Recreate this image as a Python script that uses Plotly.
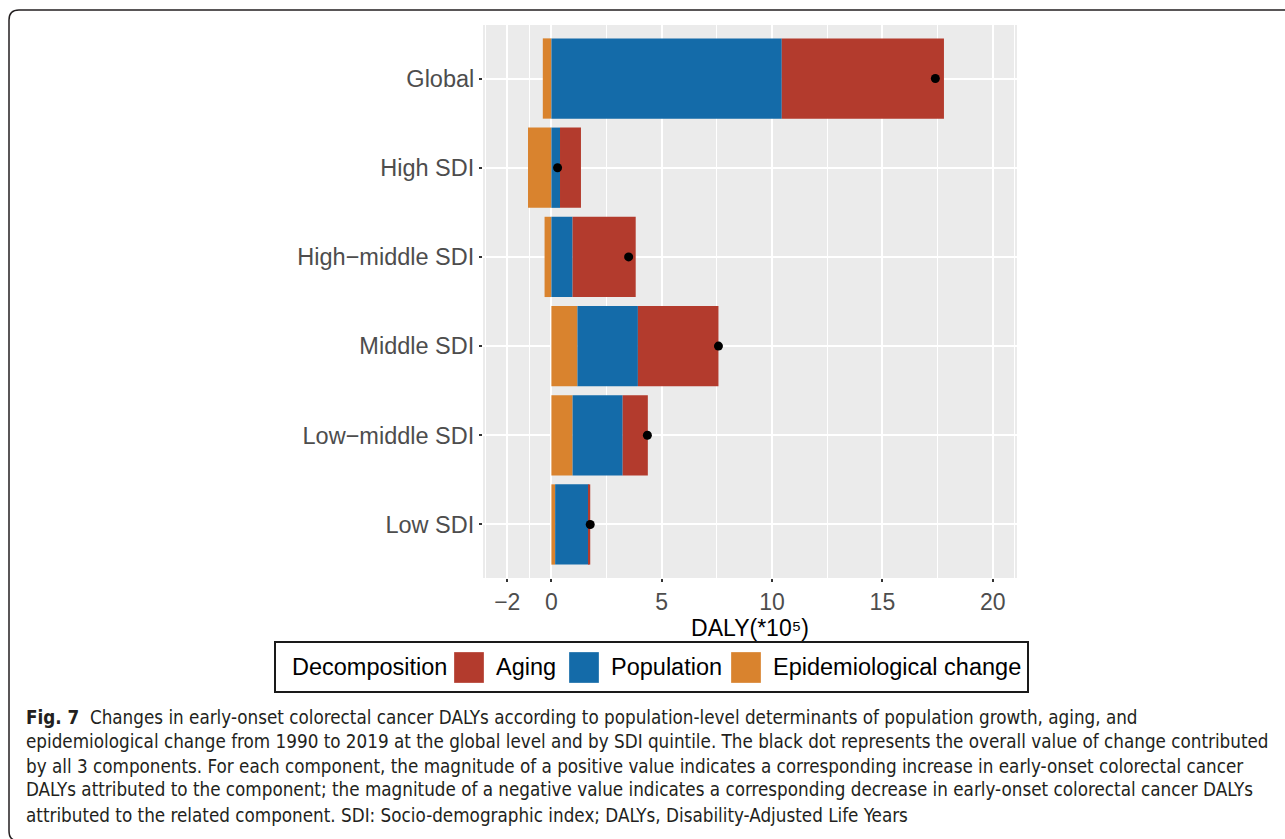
import plotly.graph_objects as go

# ---------------- data (DALY change, *10^5) ----------------
categories = ["Global", "High SDI", "High\u2212middle SDI", "Middle SDI", "Low\u2212middle SDI", "Low SDI"]
epi_change = [-0.39, -1.06, -0.31, 1.18, 0.96, 0.17]
population = [10.44, 0.39, 0.96, 2.74, 2.27, 1.52]
aging = [7.35, 0.95, 2.86, 3.65, 1.14, 0.07]
overall = [17.40, 0.28, 3.50, 7.57, 4.35, 1.76]

x_ticks = [-2, 0, 5, 10, 15, 20]
x_tick_labels = ["\u22122", "0", "5", "10", "15", "20"]
x_minor = [-3, -1, 2.5, 7.5, 12.5, 17.5, 21]

legend_names = ["Aging", "Population", "Epidemiological change"]
caption_lines = [
    "<b>Fig. 7</b>  Changes in early-onset colorectal cancer DALYs according to population-level determinants of population growth, aging, and",
    "epidemiological change from 1990 to 2019 at the global level and by SDI quintile. The black dot represents the overall value of change contributed",
    "by all 3 components. For each component, the magnitude of a positive value indicates a corresponding increase in early-onset colorectal cancer",
    "DALYs attributed to the component; the magnitude of a negative value indicates a corresponding decrease in early-onset colorectal cancer DALYs",
    "attributed to the related component. SDI: Socio-demographic index; DALYs, Disability-Adjusted Life Years",
]

C_AGING = "#B33B2D"
C_POP = "#146BA9"
C_EPI = "#D9832E"

W, H = 1285, 839
L, R, T, B = 483, 268, 25, 261
PW, PH = W - L - R, H - T - B


def px(x):
    return (x - L) / PW


def py(y):
    return (H - B - y) / PH


FONT = "Liberation Sans, Arial, sans-serif"

fig = go.Figure()
fig.add_trace(go.Bar(y=categories, x=epi_change, orientation="h", name="Epidemiological change",
                     marker=dict(color=C_EPI, line=dict(width=0)), width=0.9, showlegend=False))
fig.add_trace(go.Bar(y=categories, x=population, orientation="h", name="Population",
                     marker=dict(color=C_POP, line=dict(width=0)), width=0.9, showlegend=False))
fig.add_trace(go.Bar(y=categories, x=aging, orientation="h", name="Aging",
                     marker=dict(color=C_AGING, line=dict(width=0)), width=0.9, showlegend=False))
fig.add_trace(go.Scatter(y=categories, x=overall, mode="markers",
                         marker=dict(color="black", size=9), showlegend=False))

fig.update_layout(
    width=W, height=H,
    margin=dict(l=L, r=R, t=T, b=B, autoexpand=False),
    barmode="relative",
    bargap=0.1,
    paper_bgcolor="white",
    plot_bgcolor="#EBEBEB",
    font=dict(family=FONT, size=23, color="black"),
    showlegend=False,
)
fig.update_xaxes(
    range=[-3.1, 21.1],
    tickmode="array", tickvals=x_ticks, ticktext=x_tick_labels,
    tickfont=dict(size=23, color="#4D4D4D"),
    ticks="outside", ticklen=3, tickwidth=2, tickcolor="#333333",
    ticklabelstandoff=0,
    showgrid=True, gridcolor="white", gridwidth=2.2,
    zeroline=False, showline=False,
    minor=dict(tickmode="array", tickvals=x_minor, showgrid=True, gridcolor="white", gridwidth=1.1, ticks=""),
    title=dict(text="DALY(*10\u2075)", font=dict(size=23, color="black"), standoff=6),
)
fig.update_yaxes(
    type="category", categoryorder="array", categoryarray=categories,
    range=[5.6, -0.6],
    tickfont=dict(size=23.5, color="#4D4D4D"),
    ticks="outside", ticklen=3, tickwidth=2, tickcolor="#333333",
    showgrid=True, gridcolor="white", gridwidth=2.2,
    zeroline=False, showline=False,
)

shapes = []
annotations = []

# outer rounded frame
x0, y0, x1, y1, r = 9, 10, 1300, 841, 10
path = (
    f"M {px(x0)},{py(y0 + r)} L {px(x0)},{py(y1 - r)} Q {px(x0)},{py(y1)} {px(x0 + r)},{py(y1)} "
    f"L {px(x1)},{py(y1)} L {px(x1)},{py(y0)} L {px(x0 + r)},{py(y0)} Q {px(x0)},{py(y0)} {px(x0)},{py(y0 + r)} Z"
)
shapes.append(dict(type="path", xref="paper", yref="paper", path=path,
                   line=dict(color="#231F20", width=1.5), layer="above"))

# legend box
shapes.append(dict(type="rect", xref="paper", yref="paper",
                   x0=px(275), x1=px(1028), y0=py(642), y1=py(692),
                   line=dict(color="#1A1A1A", width=2), fillcolor="white", layer="above"))
annotations.append(dict(xref="paper", yref="paper", x=px(290), y=py(667), xanchor="left", yanchor="middle",
                        text="Decomposition", showarrow=False, font=dict(family=FONT, size=23.5, color="black")))
swatches = [(C_AGING, 454, 484, 494), (C_POP, 569, 599, 609), (C_EPI, 731, 761, 771)]
for (col, sx0, sx1, tx), name in zip(swatches, legend_names):
    shapes.append(dict(type="rect", xref="paper", yref="paper",
                       x0=px(sx0), x1=px(sx1), y0=py(652), y1=py(683),
                       line=dict(color="rgba(255,255,255,0.6)", width=0.5), fillcolor=col, layer="above"))
    annotations.append(dict(xref="paper", yref="paper", x=px(tx), y=py(667), xanchor="left", yanchor="middle",
                            text=name, showarrow=False, font=dict(family=FONT, size=23.5, color="black")))

# caption
cap_y = [717, 741, 766, 790, 815]
for line, yy in zip(caption_lines, cap_y):
    annotations.append(dict(xref="paper", yref="paper", x=px(24), y=py(yy), xanchor="left", yanchor="middle",
                            text=line, showarrow=False,
                            font=dict(family="DejaVu Sans Condensed, Liberation Sans Narrow, sans-serif",
                                      size=18.7, color="#231F20")))

fig.update_layout(shapes=shapes, annotations=annotations)
fig.write_html("out.html", config={"displayModeBar": False},
               post_script="document.body.style.margin='0';document.body.style.padding='0';")
